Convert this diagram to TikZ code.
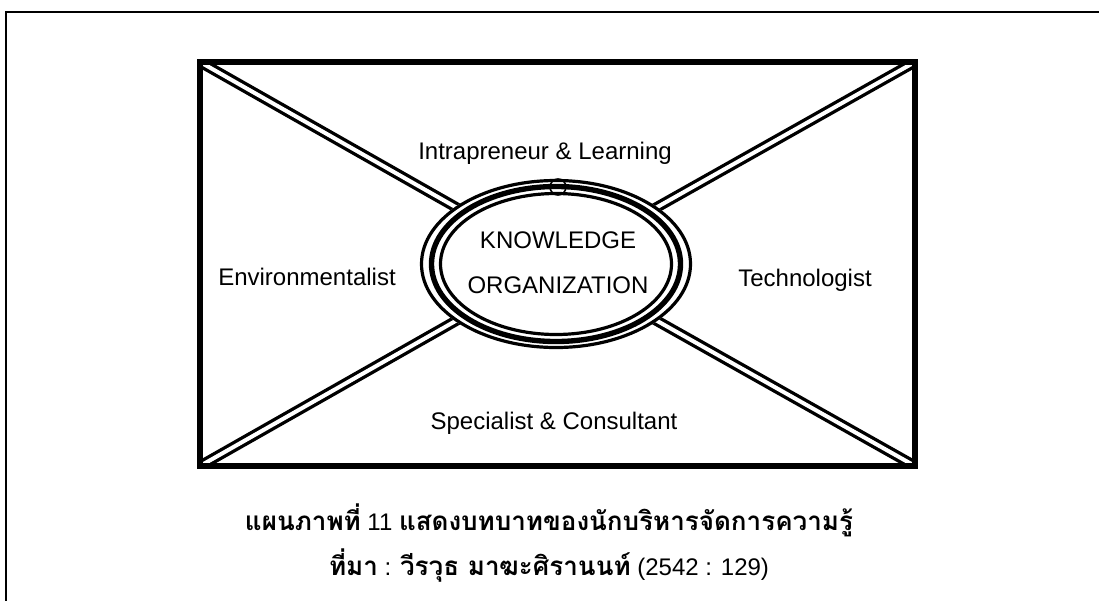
\documentclass[tikz,border=0pt]{standalone}
\usepackage{fontspec}
\setmainfont{Liberation Sans}
\newfontfamily\thaifont[Script=Thai]{Loma}
\newcommand{\thb}[1]{{\thaifont\bfseries\fontsize{19.5}{22}\selectfont #1}}

\begin{document}
\begin{tikzpicture}[x=0.75pt, y=-0.75pt,
  box/.style     ={line width=5pt, line cap=rect},
  spoke/.style   ={draw=black, line width=2.5pt, double=white, double distance=3pt},
  lbl/.style     ={font=\fontsize{18}{20}\selectfont, inner sep=0pt, anchor=base},
  caption/.style ={font=\fontsize{18}{20}\selectfont, inner sep=0pt, anchor=base},
]
\useasboundingbox (0,0) rectangle (1099,600);
\clip (0,0) rectangle (1099,600);

% page border, runs off at the right and bottom
\draw[line width=1.8pt] (6,12) rectangle (1130,630);

\coordinate (nw)  at (200,62);
\coordinate (ne)  at (915,62);
\coordinate (sw)  at (200,466);
\coordinate (se)  at (915,466);
\coordinate (hub) at (556,264);

% spokes from the four corners in to the hub
\begin{scope}
  \clip (nw) rectangle (se);
  \foreach \c in {nw,ne,sw,se}{\draw[spoke] (\c) -- (hub);}
\end{scope}
\draw[box] (nw) rectangle (se);

% triple ring round the core
\fill[white] (hub) ellipse [x radius=136, y radius=85];
\draw[line width=2.4pt] (hub) ellipse [x radius=134.5, y radius=83.5];
\draw[line width=4pt]   (hub) ellipse [x radius=124.5, y radius=77.5];
\draw[line width=2.4pt] (hub) ellipse [x radius=115.5, y radius=70.5];
\draw[line width=1.2pt] (558,187) circle [radius=8];

\node[lbl] (core1) at (558,248.5) {KNOWLEDGE};
\node[lbl] (core2) at (558,293.5) {ORGANIZATION};

\node[lbl] (intra) at (545,159.5) {Intrapreneur \& Learning};
\node[lbl] (envir) at (307,285)   {Environmentalist};
\node[lbl] (techn) at (805,286)   {Technologist};
\node[lbl] (speci) at (554,429)   {Specialist \& Consultant};

% caption
\node[caption] (cap1) at (549,530)
  {\thb{แผนภาพที่} 11 \thb{แสดงบทบาทของนักบริหารจัดการความรู้}};
\node[caption] (cap2) at (549,575)
  {\thb{ที่มา} : \thb{วีรวุธ มาฆะศิรานนท์} (2542 : 129)};
\end{tikzpicture}
\end{document}
